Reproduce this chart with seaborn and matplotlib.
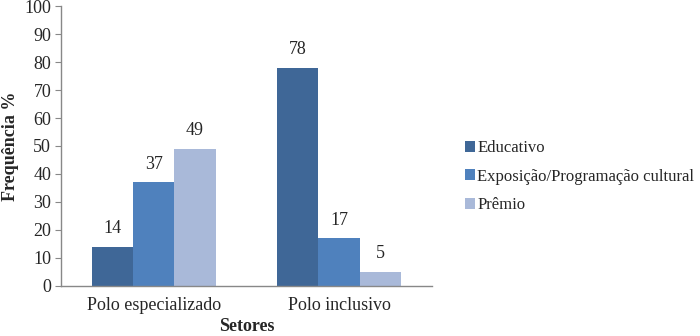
import matplotlib
matplotlib.use("Agg")
import matplotlib.pyplot as plt
import seaborn as sns
import pandas as pd

categories = ["Polo especializado", "Polo inclusivo"]
series = ["Educativo", "Exposição/Programação cultural", "Prêmio"]
educativo = [14, 78]
exposicao = [37, 17]
premio = [49, 5]
colors = ["#3F6797", "#4F81BD", "#A9B9D9"]

rows = []
for s, vals in zip(series, [educativo, exposicao, premio]):
    for c, v in zip(categories, vals):
        rows.append({"Setores": c, "Serie": s, "Valor": v})
df = pd.DataFrame(rows)

sns.set_style("white")
plt.rcParams["font.family"] = ["Liberation Serif", "DejaVu Serif"]

FS = 13
fig = plt.figure(figsize=(7, 3.36), dpi=100)
ax = fig.add_axes([0.087, 0.149, 0.530, 0.833])
sns.barplot(data=df, x="Setores", y="Valor", hue="Serie", hue_order=series,
            order=categories, palette=colors, width=0.67, saturation=1,
            linewidth=0, ax=ax, legend=True)

for cont in ax.containers:
    ax.bar_label(cont, labels=[f"{int(v)}" for v in cont.datavalues],
                 padding=7, fontsize=FS)

ax.set_ylim(0, 100)
ax.set_yticks(range(0, 101, 10))
ax.set_xlim(-0.5, 1.5)
ax.set_xticks([0, 1])
ax.set_xticklabels(categories, fontsize=FS)
ax.tick_params(axis="x", length=0, pad=8)
ax.set_xticks([0.5], minor=True)
ax.tick_params(axis="x", which="minor", length=4, color="#888888", direction="out")
ax.tick_params(axis="y", length=4, color="#888888", direction="out", labelsize=FS, left=True, pad=3)
for s in ["top", "right"]:
    ax.spines[s].set_visible(False)
for s in ["left", "bottom"]:
    ax.spines[s].set_color("#888888")
    ax.spines[s].set_linewidth(1)
ax.set_xlabel("Setores", fontsize=FS, fontweight="bold", labelpad=3)
ax.set_ylabel("Frequência %", fontsize=FS, fontweight="bold", labelpad=4)

h, l = ax.get_legend_handles_labels()
ax.legend(h, l, loc="center left", bbox_to_anchor=(1.07, 0.39), frameon=False,
          fontsize=12, handlelength=0.65, handleheight=0.65, handletextpad=0.1,
          labelspacing=0.75, borderaxespad=0)

fig.savefig("out.png", dpi=100)
